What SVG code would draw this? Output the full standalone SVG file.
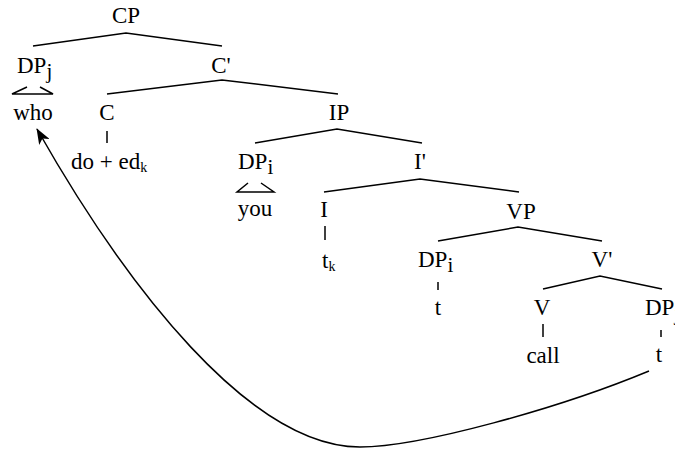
<svg xmlns="http://www.w3.org/2000/svg" width="675" height="450" viewBox="0 0 675 450">
<style>
text{font-family:'Liberation Serif','Times New Roman',Times,'DejaVu Serif',serif;font-size:23px;fill:#000}
.m{text-anchor:middle}
.sub{font-size:21px}
.k{font-size:14px}
line,polyline,path.e{stroke:#000;stroke-width:1.5;fill:none}
</style>
<defs>
<marker id="ah" viewBox="0 0 16 12" refX="15" refY="6" markerWidth="16" markerHeight="12" markerUnits="userSpaceOnUse" orient="auto">
<path d="M0,0 L16,6 L0,12 L4,6 z" fill="#000"/>
</marker>
</defs>
<rect width="675" height="450" fill="#fff"/>
<g id="connectors">
<polyline points="33,46 126,33 222,46"/>
<polyline points="107,94 222,80 338,94"/>
<polyline points="255,143 337,129 422,143"/>
<polyline points="324,192 420,179 519,192"/>
<polyline points="438,241 518,227 602,241"/>
<polyline points="543,289 600,276 662,289"/>
<polyline points="27,87 12,94 53,94 40,87"/>
<polyline points="248,183 237,192 274,192 261,183"/>
<line x1="107" y1="131" x2="107" y2="143"/>
<line x1="325" y1="226" x2="325" y2="240"/>
<line x1="438" y1="282" x2="438" y2="290"/>
<line x1="543" y1="324" x2="543" y2="337"/>
<line x1="661" y1="330" x2="661" y2="337"/>
<path class="e" d="M649,371 C560,408 420,447 360,447 C250,447 126,286 37,129" marker-end="url(#ah)"/>
</g>
<g font-family="Liberation Serif, Times New Roman, serif">
<g id="CP"><text class="m" x="126" y="23">CP</text></g>
<g id="DPj"><text x="17" y="73">DP<tspan class="sub" dy="5">j</tspan></text></g>
<g id="Cbar"><text class="m" x="221" y="73">C'</text></g>
<g id="who"><text class="m" x="33" y="120">who</text></g>
<g id="C"><text class="m" x="107" y="120">C</text></g>
<g id="IP"><text class="m" x="339" y="120">IP</text></g>
<g id="doed"><text x="71" y="169">do + ed<tspan class="k" dy="3">k</tspan></text></g>
<g id="DPi1"><text x="238" y="169">DP<tspan class="sub" dy="5">i</tspan></text></g>
<g id="Ibar"><text class="m" x="420" y="169">I'</text></g>
<g id="you"><text class="m" x="255" y="216">you</text></g>
<g id="I"><text class="m" x="324" y="217">I</text></g>
<g id="VP"><text class="m" x="521" y="219">VP</text></g>
<g id="tk"><text x="322" y="268">t<tspan class="k" dy="3">k</tspan></text></g>
<g id="DPi2"><text x="418" y="267">DP<tspan class="sub" dy="5">i</tspan></text></g>
<g id="Vbar"><text class="m" x="602" y="267">V'</text></g>
<g id="t1"><text class="m" x="438" y="315">t</text></g>
<g id="V"><text class="m" x="542" y="315">V</text></g>
<g id="DPj2"><text x="645" y="315">DP<tspan class="sub" dy="5">j</tspan></text></g>
<g id="call"><text class="m" x="543" y="363">call</text></g>
<g id="t2"><text class="m" x="659" y="362">t</text></g>
</g>
</svg>
